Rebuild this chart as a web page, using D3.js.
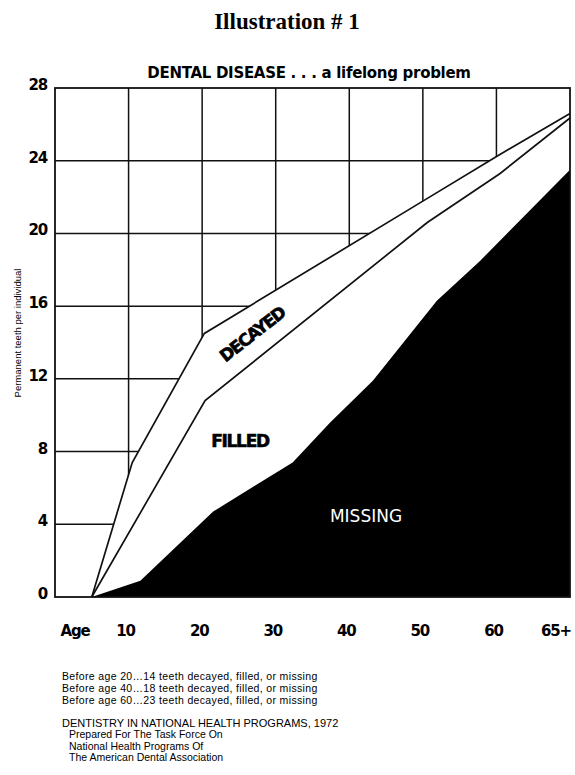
<!DOCTYPE html>
<html>
<head>
<meta charset="utf-8">
<script src="https://cdn.jsdelivr.net/npm/d3@7"></script>
<style>
  body { margin: 0; background: #fff; }
  svg { display: block; }
</style>
</head>
<body>
<script>
// ages where each boundary bends, and teeth per person at that age
var totalAge = [5, 10.5, 20.3, 50.5, 60.3, 70];
var totalTeeth = [0, 7.4, 14.5, 21.9, 24.3, 26.6];   // decayed + filled + missing
var filledAge = [5, 20.4, 50.6, 60.5, 70];
var filledTeeth = [0, 10.8, 20.6, 23.3, 26.35];     // filled + missing
var missingAge = [5, 11.6, 21.5, 32.3, 37.4, 43.2, 51.9, 57.8, 70];
var missingTeeth = [0, 0.9, 4.7, 7.4, 9.6, 11.9, 16.3, 18.5, 23.5];

var yTicks = [0, 4, 8, 12, 16, 20, 24, 28];
var xGrid = [10, 20, 30, 40, 50, 60];
var xTickVals = [10, 20, 30, 40, 50, 60, 68.5];
var xTickLabels = ["10", "20", "30", "40", "50", "60", "65+"];

var notes = [
  "Before age 20\u202614 teeth decayed, filled, or missing",
  "Before age 40\u202618 teeth decayed, filled, or missing",
  "Before age 60\u202623 teeth decayed, filled, or missing"
];
var source = [
  "Prepared For The Task Force On",
  "National Health Programs Of",
  "The American Dental Association"
];

var W = 575, H = 775;
var plot = {left: 55, right: 570, top: 88, bottom: 597};

var svg = d3.select("body").append("svg")
    .attr("width", W)
    .attr("height", H);

var x = d3.scaleLinear().domain([0, 70]).range([plot.left, plot.right]);
var y = d3.scaleLinear().domain([0, 28]).range([plot.bottom, plot.top]);

var zip = function(a, b) { return a.map(function(d, i) { return [d, b[i]]; }); };
var total = zip(totalAge, totalTeeth),
    filled = zip(filledAge, filledTeeth),
    missing = zip(missingAge, missingTeeth);

var boldFont = "'DejaVu Sans', sans-serif";

// title
svg.append("text")
    .attr("x", 287).attr("y", 29)
    .attr("text-anchor", "middle")
    .style("font-family", "'Liberation Serif', serif")
    .style("font-weight", "bold")
    .style("font-size", "23px")
    .text("Illustration # 1");

svg.append("text")
    .attr("x", 309).attr("y", 78)
    .attr("text-anchor", "middle")
    .style("font-family", boldFont)
    .style("font-weight", "bold")
    .style("font-size", "15px")
    .style("letter-spacing", "-0.3px")
    .text("DENTAL DISEASE  .  .  .  a lifelong problem");

// grid
var g = svg.append("g");
g.selectAll(".hgrid")
    .data(yTicks.slice(1, -1))
  .enter().append("line")
    .attr("x1", plot.left).attr("x2", plot.right)
    .attr("y1", function(d) { return y(d); })
    .attr("y2", function(d) { return y(d); })
    .attr("stroke", "#111").attr("stroke-width", 1.5);

g.selectAll(".vgrid")
    .data(xGrid)
  .enter().append("line")
    .attr("y1", plot.top).attr("y2", plot.bottom)
    .attr("x1", function(d) { return x(d); })
    .attr("x2", function(d) { return x(d); })
    .attr("stroke", "#111").attr("stroke-width", 1.5);

// white band under the total line hides the grid
var area = d3.area()
    .x(function(d) { return x(d[0]); })
    .y0(y(0))
    .y1(function(d) { return y(d[1]); });
var line = d3.line()
    .x(function(d) { return x(d[0]); })
    .y(function(d) { return y(d[1]); });

svg.append("path").attr("d", area(total)).attr("fill", "#fff");
svg.append("path").attr("d", line(total))
    .attr("fill", "none").attr("stroke", "#111").attr("stroke-width", 1.7);
svg.append("path").attr("d", line(filled))
    .attr("fill", "none").attr("stroke", "#111").attr("stroke-width", 1.7);
svg.append("path").attr("d", area(missing)).attr("fill", "#000");

// frame
svg.append("rect")
    .attr("x", plot.left).attr("y", plot.top)
    .attr("width", plot.right - plot.left)
    .attr("height", plot.bottom - plot.top)
    .attr("fill", "none").attr("stroke", "#111").attr("stroke-width", 1.8);

// y axis labels
svg.selectAll(".ylab")
    .data(yTicks)
  .enter().append("text")
    .attr("x", 47)
    .attr("y", function(d) { return y(d) + 2; })
    .attr("text-anchor", "end")
    .style("font-family", boldFont)
    .style("font-weight", "bold")
    .style("font-size", "15px")
    .style("letter-spacing", "-1.2px")
    .text(function(d) { return d; });

svg.append("text")
    .attr("transform", "translate(21,333) rotate(-90)")
    .attr("text-anchor", "middle")
    .style("font-family", "'Liberation Sans', sans-serif")
    .style("font-size", "9.5px")
    .text("Permanent teeth per individual");

// x axis labels
svg.selectAll(".xlab")
    .data(xTickVals)
  .enter().append("text")
    .attr("x", function(d) { return x(d) - 3; })
    .attr("y", 636)
    .attr("text-anchor", "middle")
    .style("font-family", boldFont)
    .style("font-weight", "bold")
    .style("font-size", "15px")
    .style("letter-spacing", "-1.2px")
    .text(function(d, i) { return xTickLabels[i]; });

svg.append("text")
    .attr("x", 75).attr("y", 636)
    .attr("text-anchor", "middle")
    .style("font-family", boldFont)
    .style("font-weight", "bold")
    .style("font-size", "15px")
    .style("letter-spacing", "-1.2px")
    .text("Age");

// region labels
svg.append("text")
    .attr("transform", "translate(256,339) rotate(-38)")
    .attr("text-anchor", "middle")
    .attr("stroke", "#000").attr("stroke-width", 0.6)
    .style("font-family", boldFont)
    .style("font-weight", "bold")
    .style("font-size", "17px")
    .style("letter-spacing", "-1.5px")
    .text("DECAYED");

svg.append("text")
    .attr("x", 240).attr("y", 447)
    .attr("text-anchor", "middle")
    .attr("stroke", "#000").attr("stroke-width", 0.6)
    .style("font-family", boldFont)
    .style("font-weight", "bold")
    .style("font-size", "17px")
    .style("letter-spacing", "-1.3px")
    .text("FILLED");

svg.append("text")
    .attr("x", 366).attr("y", 522)
    .attr("text-anchor", "middle")
    .attr("fill", "#fff")
    .style("font-family", boldFont)
    .style("font-size", "17px")
    .text("MISSING");

// notes
var noteFont = "'Liberation Sans', sans-serif";
svg.selectAll(".note")
    .data(notes)
  .enter().append("text")
    .attr("x", 62)
    .attr("y", function(d, i) { return 680 + i * 12; })
    .style("font-family", noteFont)
    .style("font-size", "10.5px")
    .style("letter-spacing", "0.35px")
    .text(function(d) { return d; });

svg.append("text")
    .attr("x", 62).attr("y", 727)
    .style("font-family", noteFont)
    .style("font-size", "11px")
    .text("DENTISTRY IN NATIONAL HEALTH PROGRAMS, 1972");

svg.selectAll(".src")
    .data(source)
  .enter().append("text")
    .attr("x", 69)
    .attr("y", function(d, i) { return 738 + i * 11.5; })
    .style("font-family", noteFont)
    .style("font-size", "10.5px")
    .text(function(d) { return d; });
</script>
</body>
</html>
